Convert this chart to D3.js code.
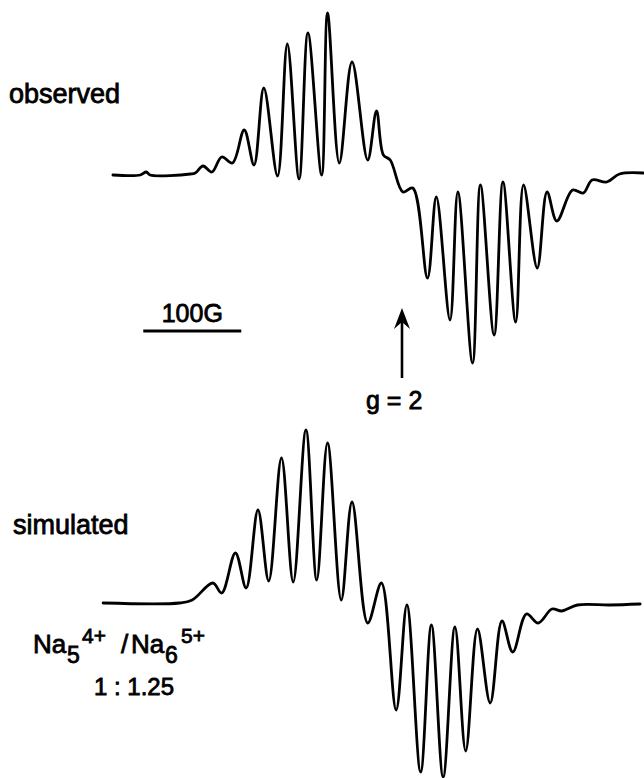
<!DOCTYPE html>
<html>
<head>
<meta charset="utf-8">
<script src="https://cdn.jsdelivr.net/npm/d3@7"></script>
<style>
  body { margin: 0; background: #fff; }
  text { font-family: "Liberation Sans", Arial, sans-serif; fill: #000; stroke: #000; stroke-width: 0.8; }
</style>
</head>
<body>
<div id="chart"></div>
<script>
// field offsets from g = 2 (gauss) and derivative signal (arbitrary units)
var obsField = [-295, -267, -261, -257, -216, -211, -203, -194, -184, -173, -161, -151, -141, -127, -117, -105, -96, -82, -76, -64, -51, -35, -26, -19, -12, 1, 11, 26, 35, 49, 57, 72, 80, 94, 103, 116, 124, 138, 148, 158, 174, 185, 194, 209, 222, 246];
var obsSignal = [-1, -1, 2, -1, 0, 1, 8, 2, 17, 11, 44, 9, 86, -2, 130, -5, 141, -1, 161, 11, 112, 14, 63, 19, 14, -18, -14, -104, -23, -146, -18, -189, -11, -161, -8, -148, -11, -94, -18, -47, -16, -19, -6, -8, 0, 1];

var simField = [-305, -227, -214, -193, -184, -170, -159, -147, -136, -123, -111, -98, -87, -76, -62, -51, -35, -21, -6, 5, 19, 30, 42, 54, 65, 77, 90, 102, 113, 127, 139, 153, 163, 179, 212, 243];
var simSignal = [0, 0, 3, 20, 10, 50, 15, 93, 22, 145, 21, 173, 23, 160, 3, 101, -20, 20, -107, -2, -169, -22, -174, -24, -148, -26, -100, -18, -49, -11, -20, -6, -8, -2, -2, -1];

var scaleBarGauss = 100;

var width = 644, height = 778;

var svg = d3.select("#chart").append("svg")
    .attr("width", width)
    .attr("height", height);

var x = d3.scaleLinear().domain([-300, 250]).range([108, 647]);
// same gain for both traces, only the baseline differs
var yObs = d3.scaleLinear().domain([-200, 200]).range([374, -26]);
var ySim = d3.scaleLinear().domain([-200, 200]).range([803, 403]);

function drawTrace(fields, signals, y) {
  var pts = fields.map(function(f, i) { return [f, signals[i]]; });
  var line = d3.line()
      .x(function(d) { return x(d[0]); })
      .y(function(d) { return y(d[1]); })
      .curve(d3.curveCatmullRom.alpha(0.5));
  svg.append("path")
      .datum(pts)
      .attr("d", line)
      .attr("fill", "none")
      .attr("stroke", "#000")
      .attr("stroke-width", 2.8)
      .attr("stroke-linejoin", "round")
      .attr("stroke-linecap", "round");
}

drawTrace(obsField, obsSignal, yObs);
drawTrace(simField, simSignal, ySim);

// labels
svg.append("text").attr("x", 9).attr("y", 103).attr("font-size", 27).text("observed");
svg.append("text").attr("x", 13).attr("y", 534).attr("font-size", 27).text("simulated");

// 100 G scale bar
var barX0 = x(-264);
svg.append("line")
    .attr("x1", barX0).attr("x2", barX0 + (x(scaleBarGauss) - x(0)))
    .attr("y1", 331).attr("y2", 331)
    .attr("stroke", "#000").attr("stroke-width", 2.8);
svg.append("text")
    .attr("x", barX0 + (x(scaleBarGauss) - x(0)) / 2).attr("y", 322)
    .attr("text-anchor", "middle").attr("font-size", 25)
    .text("100G");

// g = 2 marker
var gx = x(0);
svg.append("line")
    .attr("x1", gx).attr("x2", gx).attr("y1", 318).attr("y2", 378)
    .attr("stroke", "#000").attr("stroke-width", 2.6);
svg.append("path")
    .attr("d", "M" + gx + ",308 L" + (gx - 8) + ",329 L" + gx + ",322 L" + (gx + 8) + ",329 Z")
    .attr("fill", "#000");
svg.append("text").attr("x", 366).attr("y", 409).attr("font-size", 25).text("g = 2");

// ratio label
var ratio = svg.append("g");
ratio.append("text").attr("x", 33).attr("y", 653).attr("font-size", 26).text("Na");
ratio.append("text").attr("x", 67).attr("y", 663).attr("font-size", 23).text("5");
ratio.append("text").attr("x", 82).attr("y", 643).attr("font-size", 21).text("4+");
ratio.append("text").attr("x", 121).attr("y", 653).attr("font-size", 26).text("/");
ratio.append("text").attr("x", 131).attr("y", 653).attr("font-size", 26).text("Na");
ratio.append("text").attr("x", 165).attr("y", 663).attr("font-size", 23).text("6");
ratio.append("text").attr("x", 181).attr("y", 643).attr("font-size", 21).text("5+");
ratio.append("text").attr("x", 94).attr("y", 695).attr("font-size", 24).text("1 : 1.25");
</script>
</body>
</html>
